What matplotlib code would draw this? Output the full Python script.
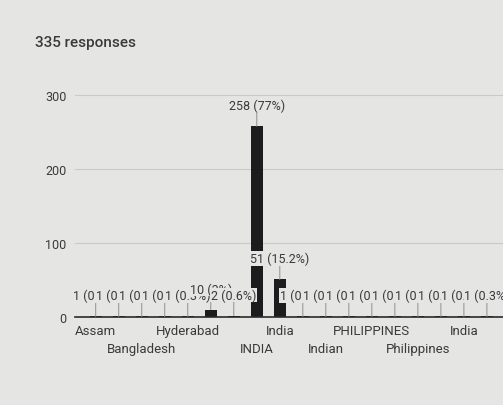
import matplotlib.pyplot as plt
import numpy as np

plt.rcParams['font.family'] = ['Roboto', 'DejaVu Sans']

# answers (only the readable axis labels are known, others were hidden in the chart)
categories = ['Assam', '', 'Bangladesh', '', 'Hyderabad', '', '', 'INDIA', 'India',
              '', 'Indian', '', 'PHILIPPINES', '', 'Philippines', '', 'India', '']
counts = [1, 1, 1, 1, 1, 10, 2, 258, 51, 1, 1, 1, 1, 1, 1, 1, 1, 1]
total = 335
yticks = [0, 100, 200, 300]

bg = '#e5e5e3'
bar_col = '#1c1c1e'
txt = '#3a3a3a'

fig = plt.figure(figsize=(5.03, 4.06), dpi=100)
fig.patch.set_facecolor(bg)
ax = fig.add_axes([0.149, 0.2167, 0.851, 0.5833])
ax.set_facecolor(bg)

x = np.arange(len(categories))
ax.bar(x, counts, width=0.52, color=bar_col, zorder=2)

ax.set_xlim(-0.9, 17.7)
ax.set_ylim(0, 320)
ax.set_yticks(yticks)
ax.set_yticklabels([str(t) for t in yticks], fontsize=9, color=txt)
ax.tick_params(axis='y', length=0, pad=6)
ax.grid(axis='y', color='#c9c9c7', linewidth=0.8, zorder=0)
for s in ['top', 'right', 'left']:
    ax.spines[s].set_visible(False)
ax.spines['bottom'].set_color('#2a2a2a')
ax.spines['bottom'].set_linewidth(1.2)

# x labels on two alternating rows
shown = [i for i, c in enumerate(categories) if c]
ax.set_xticks(shown)
ax.set_xticklabels([categories[i] if k % 2 == 0 else '\n' + categories[i]
                    for k, i in enumerate(shown)], fontsize=9.5, color=txt,
                   linespacing=1.55)
ax.tick_params(axis='x', length=0, pad=5)

# value labels with stems, later ones drawn over earlier ones
for i, v in enumerate(counts):
    pct = v / total * 100
    if pct > 50 or 1 <= pct < 10:
        lab = '%d (%d%%)' % (v, round(pct))
    else:
        lab = '%d (%.1f%%)' % (v, pct)
    ax.annotate(lab, xy=(i, v), xytext=(0, 14), textcoords='offset pixels',
                ha='center', va='bottom', fontsize=9, color=txt,
                bbox=dict(boxstyle='square,pad=0.05', fc=bg, ec='none'),
                arrowprops=dict(arrowstyle='-', color='#9a9a9a', lw=0.8,
                                shrinkA=0, shrinkB=0),
                zorder=3 + i)

fig.text(35 / 503, 1 - 43 / 406, '335 responses', fontsize=11, color=txt,
         fontweight='medium', va='center')

fig.savefig('out.png', dpi=100, facecolor=bg)
